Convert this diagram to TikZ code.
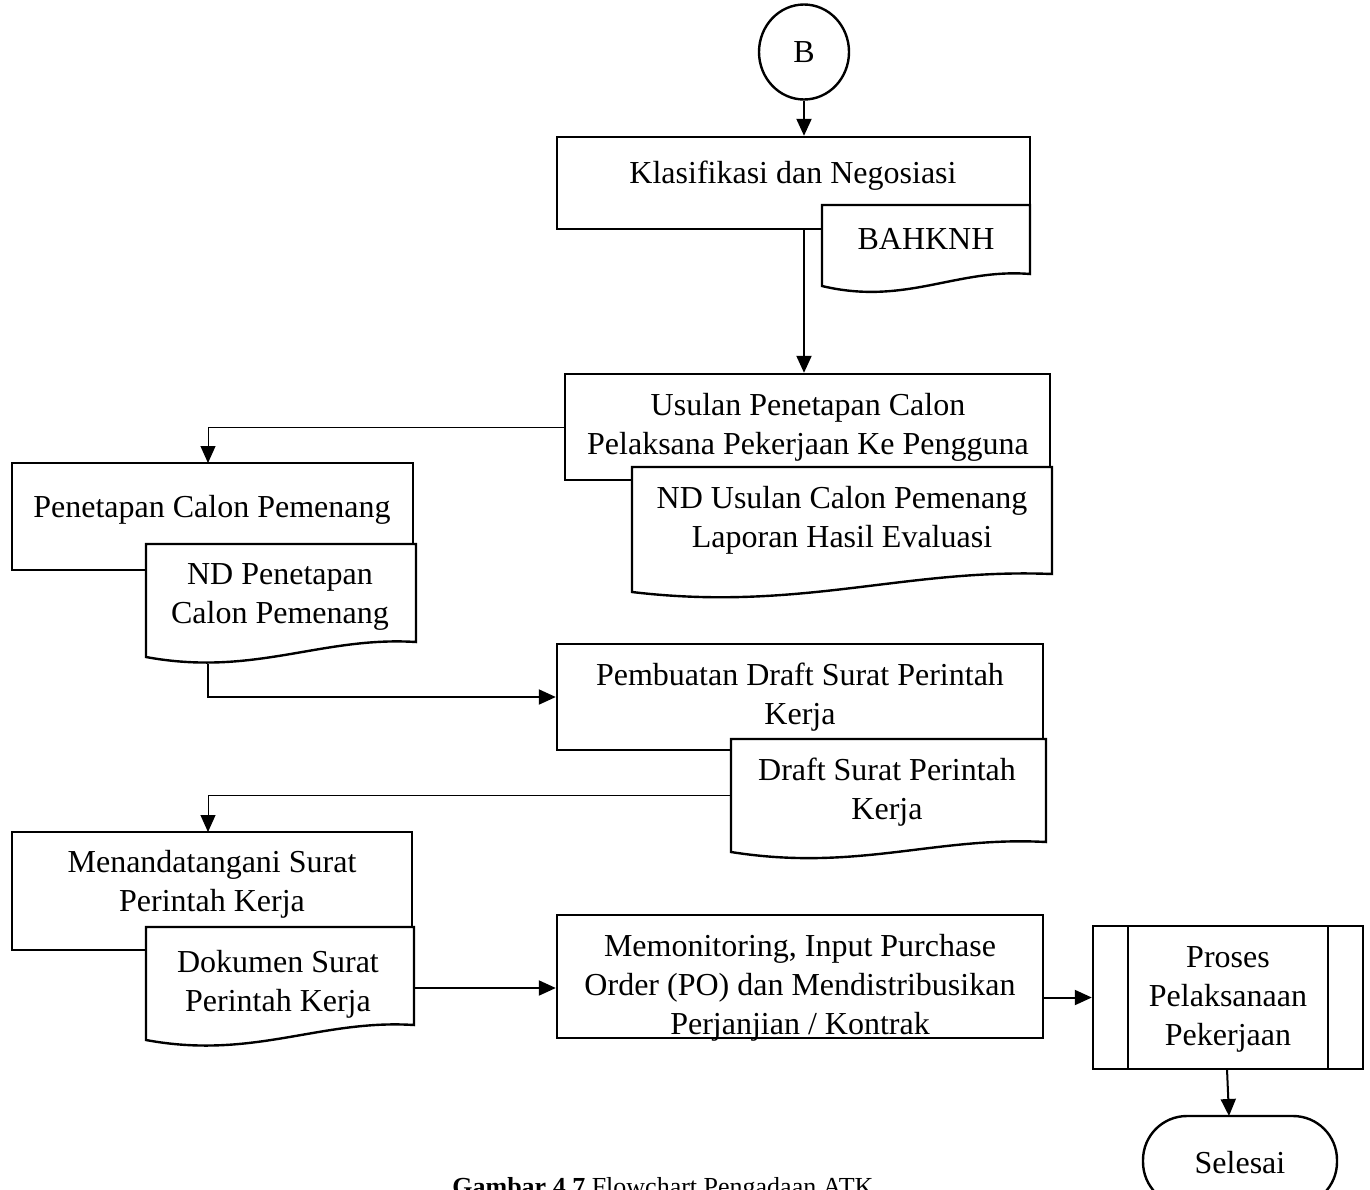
\documentclass[tikz,border=0pt]{standalone}
\usepackage{fontspec}
\setmainfont{Liberation Serif}
\usetikzlibrary{arrows.meta,fit,shapes.geometric,calc}

% document symbol with a wavy bottom edge: x1, x2, top, left bottom, right bottom, name
\newcommand\flowdoc[6]{%
  \draw[docline] (#1,#3) -- (#2,#3) -- (#2,#5)
    .. controls ({#1+0.65*(#2-#1)},{#5-6}) and ({#1+0.4*(#2-#1)},{#4+20}) .. (#1,#4) -- cycle;
  \node[inner sep=0pt, fit={(#1,#3)(#2,#4)}] (#6) {};
}

\begin{document}
\begin{tikzpicture}[x=0.5pt,y=-0.5pt,
  box/.style={draw, line width=1.2pt, inner sep=0pt},
  docline/.style={draw, fill=white, line width=1.2pt},
  txt/.style={align=center, inner sep=0pt, font=\fontsize{16}{19.5}\selectfont},
  flow/.style={line width=1pt, -{Triangle[length=8.5pt,width=7.5pt]}},
  thinflow/.style={line width=0.5pt, -{Triangle[length=8.5pt,width=7.5pt]}},
]
\useasboundingbox (0,0) rectangle (1370,1189);
\clip (0,0) rectangle (1370,1189);

% connector B
\node[box, ellipse, minimum width=45pt, minimum height=47.5pt, font=\fontsize{16}{19.5}\selectfont] (B) at (804,52) {B};

% Klasifikasi dan Negosiasi
\node[box, fit={(557,137)(1030,229)}] (klas) {};
\flowdoc{822}{1030}{205}{286}{274}{bahknh}
\node[txt] (klastxt) at (793,176) {Klasifikasi dan Negosiasi};
\node[txt] (bahknhtxt) at (926,239) {BAHKNH};

% Usulan penetapan calon
\node[box, fit={(565,374)(1050,480)}] (usulan) {};
\flowdoc{632}{1052}{467}{592}{574}{ndusulan}
\node[txt] (usulantxt) at (808,427) {Usulan Penetapan Calon\\Pelaksana Pekerjaan Ke Pengguna};
\node[txt] (ndusulantxt) at (842,520) {ND Usulan Calon Pemenang\\Laporan Hasil Evaluasi};

% Penetapan calon pemenang
\node[box, fit={(12,463)(413,570)}] (penetapan) {};
\flowdoc{146}{416}{544}{657}{642}{ndpen}
\node[txt] (penetapantxt) at (212,510) {Penetapan Calon Pemenang};
\node[txt] (ndpentxt) at (280,597) {ND Penetapan\\Calon Pemenang};

% Pembuatan draft SPK
\node[box, fit={(557,644)(1043,750)}] (pembuatan) {};
\flowdoc{731}{1046}{739}{852}{842}{draft}
\node[txt] (pembuatantxt) at (800,697) {Pembuatan Draft Surat Perintah\\Kerja};
\node[txt] (drafttxt) at (887,792) {Draft Surat Perintah\\Kerja};

% Menandatangani SPK
\node[box, fit={(12,832)(412,950)}] (menand) {};
\flowdoc{146}{414}{927}{1040}{1025}{dokumen}
\node[txt] (menandtxt) at (212,884) {Menandatangani Surat\\Perintah Kerja};
\node[txt] (dokumentxt) at (278,984) {Dokumen Surat\\Perintah Kerja};

% Memonitoring
\node[box, fit={(557,915)(1043,1038)}] (memo) {};
\node[txt] (memotxt) at (800,988) {Memonitoring, Input Purchase\\Order (PO) dan Mendistribusikan\\Perjanjian / Kontrak};

% predefined process
\node[box, fit={(1093,926)(1363,1069)}] (proses) {};
\draw[line width=1.2pt] (1128,926) -- (1128,1069) (1328,926) -- (1328,1069);
\node[txt] (prosestxt) at (1228,999) {Proses\\Pelaksanaan\\Pekerjaan};

% terminator
\node[box, rounded corners=22pt, fit={(1143,1116)(1337,1206)}] (selesai) {};
\node[txt] (selesaitxt) at (1240,1163) {Selesai};

% connectors
\coordinate (ndpenout) at (208,664);
\coordinate (dokout) at (414,988);
\draw[flow] (B.south) -- (B.south |- klas.north);
\draw[flow] (B.south |- klas.south) -- (B.south |- usulan.north);
\draw[thinflow] (usulan.west) -| (208,463);
\draw[flow] (ndpenout) |- (pembuatan.west);
\draw[thinflow] (draft.west) -| (208,832);
\draw[flow] (dokout) -- (memo.west |- dokout);
\draw[flow] (memo.east |- proses.west) -- (proses.west);
\draw[flow] (1227,1069) -- (1229,1116);

% caption
\node[anchor=base west, inner sep=0pt, font=\fontsize{13}{15}\selectfont] (caption) at (452,1195) {\textbf{Gambar 4.7} Flowchart Pengadaan ATK};
\end{tikzpicture}
\end{document}
